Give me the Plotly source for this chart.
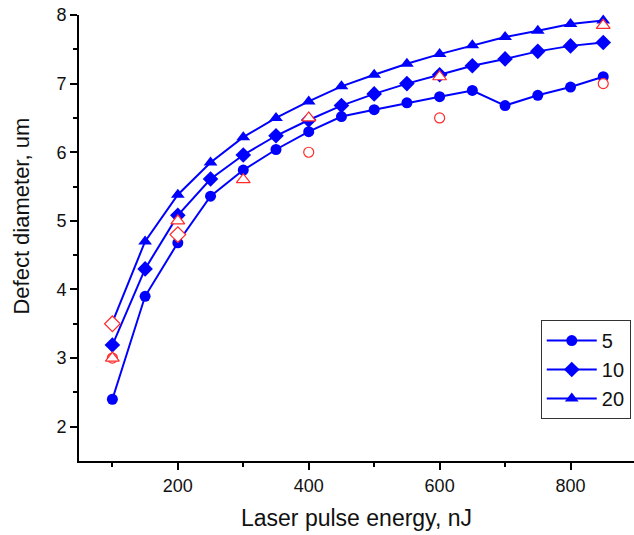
import plotly.graph_objects as go

# Laser pulse energy, nJ
energy = [100, 150, 200, 250, 300, 350, 400, 450, 500, 550, 600, 650, 700, 750, 800, 850]

# Calculated defect diameter (um) for 5, 10 and 20 pulses
d5 = [2.40, 3.90, 4.68, 5.36, 5.74, 6.04, 6.30, 6.52, 6.62, 6.72, 6.81, 6.90, 6.68, 6.83, 6.95, 7.10]
d10 = [3.19, 4.30, 5.08, 5.61, 5.96, 6.24, 6.47, 6.68, 6.85, 7.00, 7.13, 7.26, 7.36, 7.47, 7.55, 7.60]
d20 = [3.52, 4.70, 5.38, 5.85, 6.22, 6.50, 6.74, 6.96, 7.13, 7.29, 7.43, 7.56, 7.68, 7.77, 7.87, 7.92]

# Measured points (open red markers)
exp5_x = [100, 400, 600, 850]
exp5_y = [3.0, 6.0, 6.5, 7.0]
exp10_x = [100, 200]
exp10_y = [3.5, 4.8]
exp20_x = [100, 200, 300, 400, 600, 850]
exp20_y = [3.0, 5.0, 5.6, 6.5, 7.1, 7.85]

series_names = ["5", "10", "20"]
x_title = "Laser pulse energy, nJ"
y_title = "Defect diameter, um"

BLUE = "#0000ff"
RED = "#ff2a2a"
FONT = "Arial, Liberation Sans, sans-serif"
TEXT = "#111111"

fig = go.Figure()

for name, y, sym, size in [
    (series_names[0], d5, "circle", 11),
    (series_names[1], d10, "diamond", 12),
    (series_names[2], d20, "triangle-up", 12),
]:
    fig.add_trace(go.Scatter(
        x=energy, y=y, name=name, mode="lines+markers",
        line=dict(color=BLUE, width=2),
        marker=dict(symbol=sym, size=size, color=BLUE),
        cliponaxis=False,
    ))

# open markers: white fill with red outline, drawn over the curves
for x, y, sym, size in [
    (exp5_x, exp5_y, "circle", 10),
    (exp10_x, exp10_y, "diamond", 12),
    (exp20_x, exp20_y, "triangle-up", 12),
]:
    fig.add_trace(go.Scatter(
        x=x, y=y, mode="markers", showlegend=False,
        marker=dict(symbol=sym, size=size, color="white", line=dict(color=RED, width=1.2)),
        cliponaxis=False,
    ))

axis_common = dict(
    showgrid=False, zeroline=False, showline=True, linecolor="black", linewidth=2,
    ticks="outside", ticklen=7, tickwidth=1.5, tickcolor="black",
    tickfont=dict(family=FONT, size=18, color=TEXT),
    mirror=False,
)

fig.update_xaxes(
    **axis_common,
    range=[49, 897], tickvals=[200, 400, 600, 800],
    minor=dict(tickvals=[100, 300, 500, 700], ticks="outside", ticklen=4, tickwidth=1.5, tickcolor="black"),
)
fig.update_yaxes(
    **axis_common,
    range=[1.5, 8], tickvals=[2, 3, 4, 5, 6, 7, 8],
    minor=dict(tickvals=[2.5, 3.5, 4.5, 5.5, 6.5, 7.5], ticks="outside", ticklen=4, tickwidth=1.5, tickcolor="black"),
)

# axis titles as annotations for exact placement
fig.add_annotation(
    text=x_title, xref="paper", yref="paper", x=0.5, y=-0.128,
    xanchor="center", yanchor="middle", showarrow=False,
    font=dict(family=FONT, size=23, color=TEXT),
)
fig.add_annotation(
    text=y_title, xref="paper", yref="paper", x=0, y=0.548, xshift=-57,
    xanchor="center", yanchor="middle", showarrow=False, textangle=-90,
    font=dict(family=FONT, size=22, color=TEXT),
)

fig.update_layout(
    width=634, height=535,
    margin=dict(l=79, r=0, t=15, b=74),
    plot_bgcolor="white", paper_bgcolor="white",
    showlegend=True,
    legend=dict(
        x=0.832, y=0.316, xanchor="left", yanchor="top",
        bgcolor="white", bordercolor="#333333", borderwidth=1,
        font=dict(family=FONT, size=20, color=TEXT),
        itemwidth=50, tracegroupgap=0,
    ),
)

fig.write_html("out.html")
